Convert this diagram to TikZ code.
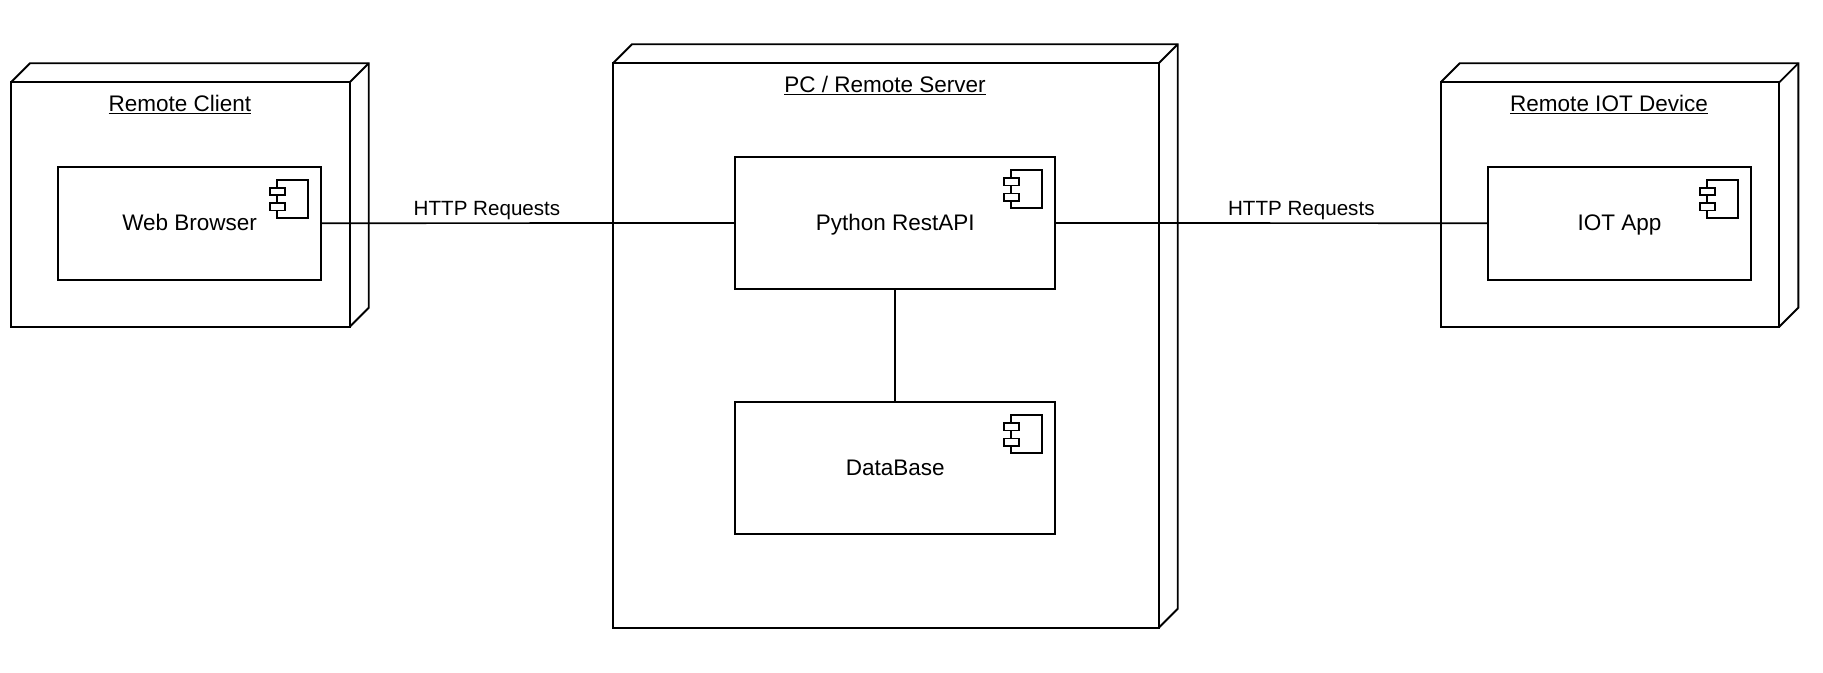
\documentclass[tikz,border=0pt]{standalone}
\usepackage{fontspec}
\setmainfont{Liberation Sans}
\tikzset{
  x=1bp,y=-1bp,
  every path/.append style={line width=1.9bp,line join=miter},
  depnode/.style={draw=black,outer sep=0pt,inner sep=0pt},
  compbox/.style={draw=black,outer sep=0pt,inner sep=0pt,text height=14bp,text depth=0bp,font=\fontsize{22.5bp}{26bp}\selectfont},
  nodetitle/.style={anchor=base,inner sep=0pt,font=\fontsize{22.5bp}{26bp}\selectfont},
  linklabel/.style={anchor=base,inner sep=0pt,font=\fontsize{20.6bp}{24bp}\selectfont},
  connector/.style={draw=black,line width=1.7bp},
  compicon/.pic={
    \draw[line width=2bp] (-44.2,13) rectangle (-13.4,51.4);
    \draw[line width=1.7bp,fill=white] (-51.3,21.3) rectangle (-36.2,28.6);
    \draw[line width=1.7bp,fill=white] (-51.3,36.4) rectangle (-36.2,43.7);
  }
}
\newcommand{\cubedepth}[2]{%
  \draw ([shift={(0,0)}]#1.north west) -- ([shift={(#2,-#2)}]#1.north west)
     -- ([shift={(#2,-#2)}]#1.north east) -- ([shift={(#2,-#2)}]#1.south east) -- (#1.south east);
  \draw (#1.north east) -- ([shift={(#2,-#2)}]#1.north east);
}
\begin{document}
\begin{tikzpicture}
\useasboundingbox (0,0) rectangle (1823,673);
\fill[white] (0,0) rectangle (1823,673);
% deployment nodes
\node[depnode,minimum width=338.7bp,minimum height=244.4bp] (client) at (180.35,204.5) {};
\node[depnode,minimum width=545.7bp,minimum height=564.4bp] (server) at (885.85,345.5) {};
\node[depnode,minimum width=338.6bp,minimum height=244.4bp] (device) at (1610,204.5) {};
\cubedepth{client}{19}
\cubedepth{server}{19}
\cubedepth{device}{19}
\node[nodetitle] (clienttitle) at (179.8,112) {\underline{Remote Client}};
\node[nodetitle] (servertitle) at (885,92.7) {\underline{PC / Remote Server}};
\node[nodetitle] (devicetitle) at (1609,112) {\underline{Remote IOT Device}};
% components
\node[compbox,minimum width=263.6bp,minimum height=113bp] (web) at (189.6,223.2) {Web Browser};
\node[compbox,minimum width=320.4bp,minimum height=132bp] (python) at (895.2,223) {Python RestAPI};
\node[compbox,minimum width=320.4bp,minimum height=132bp] (db) at (895.2,468) {DataBase};
\node[compbox,minimum width=263.6bp,minimum height=113bp] (iot) at (1619.5,223.2) {IOT App};
\pic at (web.north east) {compicon};
\pic at (python.north east) {compicon};
\pic at (db.north east) {compicon};
\pic at (iot.north east) {compicon};
% connectors
\draw[connector] (web.east) -- (python.west);
\draw[connector] (python.east) -- (iot.west);
\draw[connector] (python.south) -- (db.north);
\node[linklabel] (httpa) at (487,215) {HTTP Requests};
\node[linklabel] (httpb) at (1301.3,215) {HTTP Requests};
\end{tikzpicture}
\end{document}
